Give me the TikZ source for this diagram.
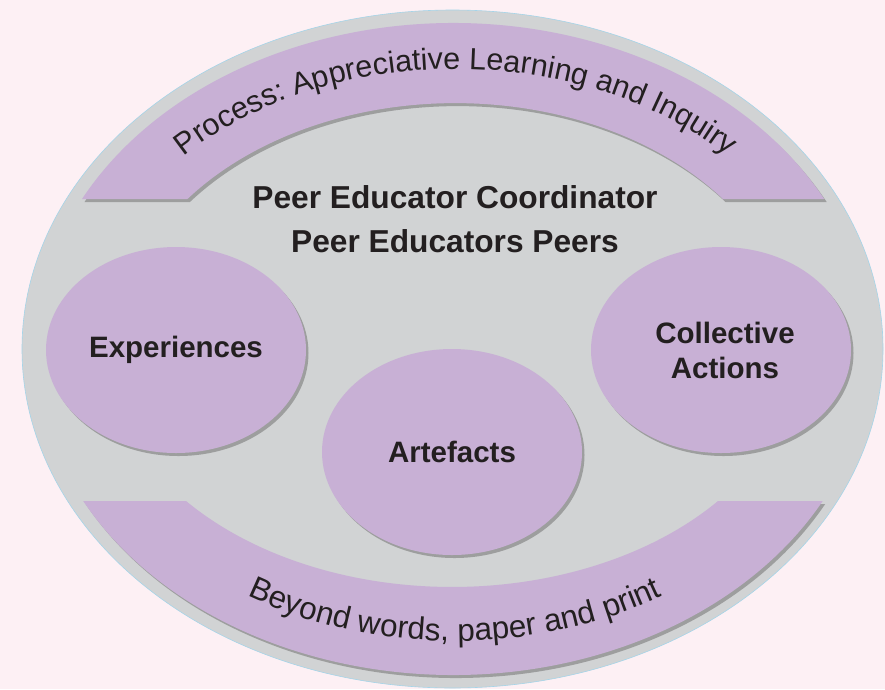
\documentclass[tikz,border=0pt]{standalone}
\usepackage{fontspec}
\setmainfont{Liberation Sans}
\usetikzlibrary{shapes.geometric,shadows,decorations.text}
\definecolor{bgpink}{RGB}{253,240,244}
\definecolor{ringgray}{RGB}{209,211,212}
\definecolor{lav}{RGB}{200,176,213}
\definecolor{ink}{RGB}{35,31,32}
\definecolor{rim}{RGB}{165,212,232}
\begin{document}
\begin{tikzpicture}[x=1pt,y=1pt,
  lavshape/.style={fill=lav, drop shadow={shadow xshift=2.5pt, shadow yshift=-3pt, fill=black!55, opacity=0.55}},
  bubble/.style={ellipse, lavshape, minimum width=260pt, minimum height=206pt, inner sep=0pt,
                 text=ink, font=\fontsize{29.5}{35}\selectfont\bfseries, align=center},
  header/.style={anchor=base, text=ink, font=\fontsize{31.7}{36}\selectfont\bfseries},
  arctext/.style={decorate, decoration={text along path, text align=center, text color=ink}}]
\fill[bgpink] (0,0) rectangle (885,-689);
\useasboundingbox (0,0) rectangle (885,-689);
% outer ring
\node[ellipse, fill=ringgray, draw=rim, line width=0.6pt, minimum width=861pt, minimum height=678pt, inner sep=0pt] (ring) at (452.5,-349) {};
% top band
\path[lavshape] (82,-199) arc[start angle=152.6, end angle=27.4, x radius=418, y radius=326]
  -- (723,-199) arc[start angle=37.6, end angle=142.4, x radius=338, y radius=246] -- cycle;
% bottom band
\path[lavshape] (83.2,-501) arc[start angle=207.8, end angle=332.2, x radius=418, y radius=326]
  -- (718,-501) arc[start angle=320.3, end angle=219.7, x radius=345.7, y radius=238] -- cycle;
% curved texts
\path[arctext, decoration={text={|\fontsize{30.5}{30}\selectfont|Process: Appreciative Learning and Inquiry}}]
  (456,-349) ++(150:375 and 280) arc[start angle=150, end angle=30, x radius=375, y radius=280];
\path[arctext, decoration={text={|\fontsize{31.5}{30}\selectfont|Beyond words, paper and print}}]
  (455,-349) ++(205:389 and 292) arc[start angle=205, end angle=335, x radius=389, y radius=292];
% header
\node[header] (coord) at (455,-208) {Peer Educator Coordinator};
\node[header] (peers) at (455,-252) {Peer Educators Peers};
% bubbles
\node[bubble] (exp) at (176,-350) {Experiences};
\node[bubble] (coll) at (721,-350) {\hspace*{8pt}Collective\\\hspace*{8pt}Actions};
\node[bubble] (art) at (452,-452) {Artefacts};
\end{tikzpicture}
\end{document}
